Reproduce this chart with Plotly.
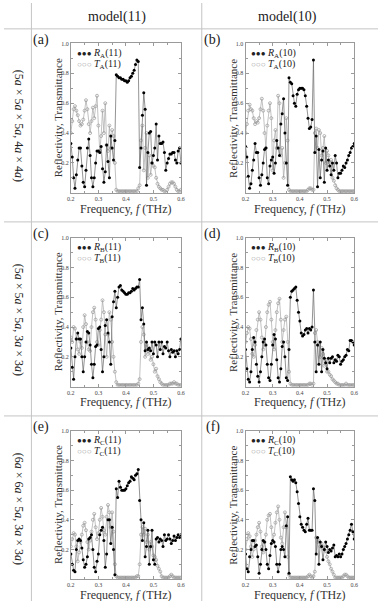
import plotly.graph_objects as go

# frequency grid (THz)
freq = [0.200, 0.205, 0.210, 0.215, 0.220, 0.225, 0.230, 0.235, 0.240, 0.245,
        0.250, 0.255, 0.260, 0.265, 0.270, 0.275, 0.280, 0.285, 0.290, 0.295,
        0.300, 0.305, 0.310, 0.315, 0.320, 0.325, 0.330, 0.335, 0.340, 0.345,
        0.350, 0.355, 0.360, 0.365, 0.370, 0.375, 0.380, 0.385, 0.390, 0.395,
        0.400, 0.405, 0.410, 0.415, 0.420, 0.425, 0.430, 0.435, 0.440, 0.445,
        0.450, 0.455, 0.460, 0.465, 0.470, 0.475, 0.480, 0.485, 0.490, 0.495,
        0.500, 0.505, 0.510, 0.515, 0.520, 0.525, 0.530, 0.535, 0.540, 0.545,
        0.550, 0.555, 0.560, 0.565, 0.570, 0.575, 0.580, 0.585, 0.590, 0.595,
        0.600]

# (a) model(11), 5a x 5a x 5a, 4a x 4a
R_a11 = [0.33, 0.24, 0.10, 0.03, 0.12, 0.22, 0.30, 0.30, 0.18, 0.07,
         0.04, 0.15, 0.30, 0.36, 0.25, 0.10, 0.04, 0.10, 0.20, 0.28,
         0.28, 0.27, 0.31, 0.16, 0.07, 0.14, 0.32, 0.21, 0.10, 0.38,
         0.30, 0.22, 0.35, 0.79, 0.78, 0.77, 0.77, 0.76, 0.76, 0.75,
         0.75, 0.74, 0.75, 0.77, 0.78, 0.80, 0.82, 0.86, 0.89, 0.88,
         0.17, 0.30, 0.52, 0.67, 0.56, 0.05, 0.27, 0.40, 0.41, 0.20,
         0.25, 0.30, 0.46, 0.22, 0.38, 0.33, 0.33, 0.34, 0.27, 0.15,
         0.20, 0.23, 0.26, 0.26, 0.27, 0.27, 0.22, 0.20, 0.28, 0.30,
         0.20]
T_a11 = [0.40, 0.48, 0.56, 0.58, 0.55, 0.52, 0.48, 0.45, 0.46, 0.49,
         0.55, 0.62, 0.56, 0.46, 0.40, 0.48, 0.57, 0.50, 0.58, 0.65,
         0.45, 0.28, 0.38, 0.55, 0.40, 0.60, 0.32, 0.28, 0.45, 0.30,
         0.42, 0.38, 0.20, 0.02, 0.01, 0.01, 0.01, 0.01, 0.01, 0.01,
         0.01, 0.01, 0.01, 0.01, 0.01, 0.01, 0.01, 0.01, 0.01, 0.03,
         0.05, 0.35, 0.45, 0.15, 0.30, 0.40, 0.10, 0.25, 0.12, 0.20,
         0.18, 0.17, 0.10, 0.06, 0.04, 0.03, 0.02, 0.02, 0.01, 0.00,
         0.02, 0.04, 0.06, 0.07, 0.07, 0.06, 0.04, 0.02, 0.01, 0.01,
         0.02]

# (b) model(10), 5a x 5a x 5a, 4a x 4a
R_a10 = [0.31, 0.24, 0.11, 0.03, 0.06, 0.15, 0.22, 0.33, 0.27, 0.27,
         0.10, 0.05, 0.12, 0.20, 0.29, 0.30, 0.10, 0.06, 0.18, 0.22,
         0.24, 0.13, 0.20, 0.35, 0.30, 0.25, 0.46, 0.53, 0.63, 0.40,
         0.20, 0.05, 0.77, 0.74, 0.73, 0.65, 0.60, 0.58, 0.66, 0.69,
         0.70, 0.70, 0.70, 0.69, 0.65, 0.58, 0.50, 0.43, 0.44, 0.49,
         0.89, 0.27, 0.38, 0.04, 0.29, 0.10, 0.22, 0.28, 0.07, 0.30,
         0.15, 0.22, 0.18, 0.12, 0.20, 0.15, 0.25, 0.20, 0.10, 0.13,
         0.13, 0.15, 0.18, 0.17, 0.20, 0.22, 0.25, 0.27, 0.30, 0.31,
         0.33]
T_a10 = [0.40, 0.46, 0.55, 0.59, 0.56, 0.55, 0.50, 0.46, 0.48, 0.47,
         0.50, 0.56, 0.63, 0.55, 0.40, 0.30, 0.45, 0.55, 0.60, 0.50,
         0.15, 0.35, 0.42, 0.30, 0.65, 0.60, 0.25, 0.30, 0.10, 0.20,
         0.50, 0.35, 0.02, 0.01, 0.01, 0.01, 0.01, 0.01, 0.01, 0.01,
         0.01, 0.01, 0.01, 0.01, 0.01, 0.01, 0.02, 0.03, 0.03, 0.02,
         0.02, 0.40, 0.43, 0.30, 0.42, 0.40, 0.25, 0.30, 0.38, 0.20,
         0.28, 0.25, 0.20, 0.22, 0.10, 0.08, 0.05, 0.03, 0.02, 0.01,
         0.01, 0.01, 0.01, 0.01, 0.01, 0.01, 0.01, 0.01, 0.01, 0.01,
         0.01]

# (c) model(11), 5a x 5a x 5a, 3a x 3a
R_b11 = [0.26, 0.13, 0.05, 0.20, 0.32, 0.36, 0.32, 0.32, 0.20, 0.10,
         0.20, 0.30, 0.37, 0.36, 0.28, 0.15, 0.06, 0.15, 0.27, 0.28,
         0.39, 0.40, 0.25, 0.10, 0.20, 0.41, 0.45, 0.36, 0.30, 0.15,
         0.47, 0.57, 0.64, 0.53, 0.60, 0.67, 0.68, 0.65, 0.64, 0.63,
         0.62, 0.62, 0.63, 0.63, 0.64, 0.66, 0.65, 0.66, 0.67, 0.67,
         0.72, 0.45, 0.53, 0.42, 0.24, 0.30, 0.25, 0.26, 0.24, 0.30,
         0.22, 0.30, 0.28, 0.20, 0.30, 0.25, 0.30, 0.22, 0.27, 0.26,
         0.30, 0.24, 0.20, 0.25, 0.23, 0.24, 0.20, 0.24, 0.22, 0.25,
         0.32]
T_b11 = [0.33, 0.30, 0.40, 0.39, 0.32, 0.25, 0.22, 0.30, 0.26, 0.40,
         0.48, 0.42, 0.30, 0.25, 0.24, 0.40, 0.50, 0.53, 0.45, 0.30,
         0.28, 0.38, 0.45, 0.58, 0.50, 0.35, 0.20, 0.35, 0.50, 0.45,
         0.30, 0.20, 0.10, 0.03, 0.01, 0.01, 0.01, 0.01, 0.01, 0.01,
         0.01, 0.01, 0.01, 0.01, 0.01, 0.01, 0.01, 0.01, 0.01, 0.02,
         0.05, 0.30, 0.40, 0.35, 0.20, 0.28, 0.22, 0.25, 0.18, 0.20,
         0.15, 0.10, 0.12, 0.07, 0.05, 0.03, 0.02, 0.01, 0.01, 0.01,
         0.01, 0.01, 0.02, 0.02, 0.02, 0.03, 0.02, 0.02, 0.01, 0.01,
         0.01]

# (d) model(10), 5a x 5a x 5a, 3a x 3a
R_b10 = [0.25, 0.12, 0.05, 0.03, 0.10, 0.25, 0.33, 0.30, 0.15, 0.07,
         0.03, 0.10, 0.20, 0.30, 0.32, 0.28, 0.15, 0.06, 0.04, 0.15,
         0.28, 0.35, 0.32, 0.18, 0.06, 0.03, 0.12, 0.27, 0.30, 0.20,
         0.06, 0.04, 0.25, 0.60, 0.64, 0.65, 0.66, 0.67, 0.58, 0.50,
         0.44, 0.36, 0.34, 0.35, 0.38, 0.39, 0.36, 0.39, 0.38, 0.40,
         0.65, 0.30, 0.10, 0.28, 0.15, 0.30, 0.10, 0.25, 0.19, 0.16,
         0.12, 0.19, 0.16, 0.19, 0.20, 0.16, 0.18, 0.17, 0.21, 0.20,
         0.15, 0.17, 0.18, 0.20, 0.21, 0.25, 0.24, 0.31, 0.31, 0.30,
         0.28]
T_b10 = [0.30, 0.36, 0.40, 0.39, 0.32, 0.22, 0.20, 0.28, 0.38, 0.45,
         0.50, 0.45, 0.33, 0.25, 0.28, 0.40, 0.50, 0.55, 0.57, 0.45,
         0.30, 0.25, 0.38, 0.50, 0.56, 0.59, 0.45, 0.30, 0.38, 0.45,
         0.47, 0.30, 0.10, 0.02, 0.01, 0.01, 0.01, 0.01, 0.01, 0.01,
         0.01, 0.01, 0.01, 0.01, 0.01, 0.01, 0.01, 0.02, 0.02, 0.01,
         0.02, 0.36, 0.38, 0.30, 0.28, 0.20, 0.26, 0.22, 0.14, 0.18,
         0.10, 0.10, 0.08, 0.07, 0.05, 0.04, 0.03, 0.02, 0.02, 0.01,
         0.01, 0.01, 0.01, 0.01, 0.02, 0.01, 0.01, 0.01, 0.01, 0.01,
         0.01]

# (e) model(11), 6a x 6a x 5a, 3a x 3a
R_c11 = [0.17, 0.10, 0.06, 0.05, 0.20, 0.26, 0.27, 0.26, 0.21, 0.13,
         0.08, 0.10, 0.15, 0.27, 0.28, 0.30, 0.20, 0.08, 0.05, 0.12,
         0.17, 0.30, 0.33, 0.35, 0.26, 0.08, 0.17, 0.40, 0.40, 0.24,
         0.35, 0.20, 0.03, 0.61, 0.55, 0.66, 0.62, 0.60, 0.60, 0.60,
         0.61, 0.63, 0.65, 0.66, 0.69, 0.68, 0.67, 0.70, 0.71, 0.74,
         0.53, 0.40, 0.26, 0.38, 0.15, 0.22, 0.33, 0.10, 0.22, 0.33,
         0.13, 0.10, 0.27, 0.28, 0.25, 0.27, 0.26, 0.22, 0.30, 0.26,
         0.27, 0.30, 0.27, 0.24, 0.26, 0.29, 0.26, 0.28, 0.30, 0.28,
         0.30]
T_c11 = [0.22, 0.27, 0.31, 0.30, 0.22, 0.12, 0.18, 0.25, 0.30, 0.36,
         0.38, 0.33, 0.25, 0.20, 0.26, 0.32, 0.40, 0.44, 0.35, 0.27,
         0.31, 0.40, 0.48, 0.42, 0.33, 0.30, 0.42, 0.50, 0.45, 0.35,
         0.45, 0.32, 0.10, 0.02, 0.01, 0.01, 0.01, 0.01, 0.01, 0.01,
         0.01, 0.01, 0.01, 0.01, 0.01, 0.01, 0.01, 0.01, 0.02, 0.02,
         0.10, 0.30, 0.35, 0.30, 0.34, 0.25, 0.30, 0.20, 0.25, 0.22,
         0.16, 0.15, 0.13, 0.09, 0.07, 0.05, 0.02, 0.01, 0.01, 0.01,
         0.01, 0.01, 0.02, 0.03, 0.02, 0.01, 0.01, 0.01, 0.01, 0.01,
         0.01]

# (f) model(10), 6a x 6a x 5a, 3a x 3a
R_c10 = [0.17, 0.07, 0.05, 0.15, 0.20, 0.26, 0.26, 0.22, 0.23, 0.15,
         0.04, 0.10, 0.20, 0.26, 0.25, 0.20, 0.10, 0.07, 0.16, 0.24,
         0.26, 0.25, 0.22, 0.10, 0.05, 0.10, 0.20, 0.22, 0.20, 0.15,
         0.36, 0.42, 0.04, 0.69, 0.67, 0.66, 0.67, 0.65, 0.59, 0.51,
         0.42, 0.37, 0.35, 0.33, 0.32, 0.37, 0.41, 0.33, 0.33, 0.33,
         0.61, 0.53, 0.17, 0.28, 0.10, 0.25, 0.22, 0.13, 0.20, 0.25,
         0.22, 0.18, 0.20, 0.19, 0.21, 0.23, 0.15, 0.16, 0.15, 0.17,
         0.15, 0.17, 0.20, 0.22, 0.24, 0.27, 0.30, 0.33, 0.37, 0.32,
         0.27]
T_c10 = [0.20, 0.27, 0.31, 0.29, 0.22, 0.15, 0.20, 0.26, 0.30, 0.35,
         0.38, 0.32, 0.22, 0.18, 0.25, 0.30, 0.40, 0.43, 0.44, 0.35,
         0.25, 0.30, 0.38, 0.45, 0.49, 0.40, 0.28, 0.24, 0.35, 0.45,
         0.35, 0.15, 0.03, 0.01, 0.01, 0.01, 0.01, 0.01, 0.01, 0.01,
         0.01, 0.01, 0.01, 0.01, 0.01, 0.01, 0.02, 0.03, 0.02, 0.01,
         0.02, 0.05, 0.28, 0.25, 0.26, 0.22, 0.24, 0.22, 0.20, 0.19,
         0.15, 0.12, 0.10, 0.07, 0.05, 0.03, 0.01, 0.01, 0.01, 0.01,
         0.01, 0.01, 0.02, 0.03, 0.03, 0.02, 0.01, 0.01, 0.01, 0.01,
         0.01]

col_titles = ["model(11)", "model(10)"]
row_titles = ["(5<i>a</i> × 5<i>a</i> × 5<i>a</i>, 4<i>a</i> × 4<i>a</i>)",
              "(5<i>a</i> × 5<i>a</i> × 5<i>a</i>, 3<i>a</i> × 3<i>a</i>)",
              "(6<i>a</i> × 6<i>a</i> × 5<i>a</i>, 3<i>a</i> × 3<i>a</i>)"]
panel_labels = ["(a)", "(b)", "(c)", "(d)", "(e)", "(f)"]
subs = ["A", "B", "C"]
models = ["11", "10"]
series = [(R_a11, T_a11), (R_a10, T_a10),
          (R_b11, T_b11), (R_b10, T_b10),
          (R_c11, T_c11), (R_c10, T_c10)]

W, H = 382, 601
SERIF = "Liberation Serif, Times New Roman, serif"


def px(x):
    return x / W


def py(y):
    return 1 - y / H


# pixel boxes of the plot frames
col_x = [(68.3, 180.7), (246.7, 357.7)]
row_y = [(40.7, 190.7), (236.0, 385.5), (430.0, 579.0)]

fig = go.Figure()
annotations = []

for k, (R, T) in enumerate(series):
    r, c = divmod(k, 2)
    n = k + 1
    xa = "x" if n == 1 else f"x{n}"
    ya = "y" if n == 1 else f"y{n}"
    fig.add_trace(go.Scatter(
        x=freq, y=T, mode="lines+markers", xaxis=xa, yaxis=ya, showlegend=False,
        line=dict(color="#a8a8a8", width=0.7),
        marker=dict(symbol="circle-open", size=3, color="#9a9a9a",
                    line=dict(width=0.7))))
    fig.add_trace(go.Scatter(
        x=freq, y=R, mode="lines+markers", xaxis=xa, yaxis=ya, showlegend=False,
        line=dict(color="#666666", width=0.7),
        marker=dict(symbol="circle", size=3, color="black")))

    x0, x1 = col_x[c]
    y0, y1 = row_y[r]
    axis_common = dict(showline=True, mirror="ticks", linecolor="#9a9a9a",
                       linewidth=1, ticks="inside", ticklen=3, tickcolor="#9a9a9a",
                       showgrid=False, zeroline=False,
                       tickfont=dict(family=SERIF, size=6, color="#444"))
    fig.layout[f"xaxis{'' if n == 1 else n}"] = dict(
        domain=[px(x0), px(x1)], anchor=ya, range=[0.2, 0.6],
        tickvals=[0.2, 0.3, 0.4, 0.5, 0.6], ticktext=["0.2", "0.3", "0.4", "0.5", "0.6"],
        minor=dict(dtick=0.05, ticks="inside", ticklen=2, tickcolor="#9a9a9a"),
        **axis_common)
    fig.layout[f"yaxis{'' if n == 1 else n}"] = dict(
        domain=[py(y1), py(y0)], anchor=xa, range=[0, 1.0],
        tickvals=[0.2, 0.4, 0.6, 0.8, 1.0], ticktext=["0.2", "0.4", "0.6", "0.8", "1.0"],
        minor=dict(dtick=0.1, ticks="inside", ticklen=2, tickcolor="#9a9a9a"),
        **axis_common)

    # axis titles
    annotations.append(dict(text="Frequency, <i>f</i> (THz)", x=px((x0 + x1) / 2),
                            y=py(y1 + 16), xref="paper", yref="paper",
                            xanchor="center", yanchor="middle", showarrow=False,
                            font=dict(family=SERIF, size=12, color="#333")))
    annotations.append(dict(text="Reflectivity, Transmittance", x=px(x0 - 13),
                            y=py((y0 + y1) / 2), xref="paper", yref="paper",
                            xanchor="center", yanchor="middle", showarrow=False,
                            textangle=-90,
                            font=dict(family=SERIF, size=11, color="#333")))

    # panel label
    annotations.append(dict(text=panel_labels[k], x=px(38 if c == 0 else 213),
                            y=py(y0 - 4), xref="paper", yref="paper",
                            xanchor="center", yanchor="middle", showarrow=False,
                            font=dict(family=SERIF, size=14, color="#222")))
    # legend
    lab = f"<i>{{}}</i><sub>{subs[r]}</sub>({models[c]})"
    annotations.append(dict(
        text="<span style='font-size:8px'>●●●</span> " + lab.format("R"),
        x=px(x0 + 4), y=py(y0 + 10), xref="paper", yref="paper",
        xanchor="left", yanchor="middle", showarrow=False,
        font=dict(family=SERIF, size=10, color="#222")))
    annotations.append(dict(
        text="<span style='font-size:8px;color:#999'>○○○</span> " + lab.format("T"),
        x=px(x0 + 4), y=py(y0 + 21), xref="paper", yref="paper",
        xanchor="left", yanchor="middle", showarrow=False,
        font=dict(family=SERIF, size=10, color="#222")))

for c, t in enumerate(col_titles):
    annotations.append(dict(text=t, x=px(115 if c == 0 else 290), y=py(14),
                            xref="paper", yref="paper", showarrow=False,
                            xanchor="center", yanchor="middle",
                            font=dict(family=SERIF, size=14, color="#222")))
for r, t in enumerate(row_titles):
    annotations.append(dict(text=t, x=px(15), y=py([123, 318, 508][r]),
                            xref="paper", yref="paper", showarrow=False,
                            textangle=90, xanchor="center", yanchor="middle",
                            font=dict(family=SERIF, size=12, color="#222")))

# table rules
grid = dict(type="line", xref="paper", yref="paper",
            line=dict(color="#c4c4c4", width=1))
shapes = [
    dict(x0=0, x1=1, y0=py(26), y1=py(26), **grid),
    dict(x0=0, x1=1, y0=py(220), y1=py(220), **grid),
    dict(x0=0, x1=1, y0=py(415), y1=py(415), **grid),
    dict(x0=px(28), x1=px(28), y0=0, y1=1, **grid),
    dict(x0=px(202), x1=px(202), y0=0, y1=1, **grid),
]

fig.update_layout(width=W, height=H, margin=dict(l=0, r=0, t=0, b=0),
                  paper_bgcolor="white", plot_bgcolor="white",
                  annotations=annotations, shapes=shapes,
                  font=dict(family=SERIF))
# the page's default 8px body margin would push the figure off the window
fig.write_html("out.html", config={"displayModeBar": False},
               post_script="document.body.style.margin='0';"
                           "document.body.style.overflow='hidden';")
